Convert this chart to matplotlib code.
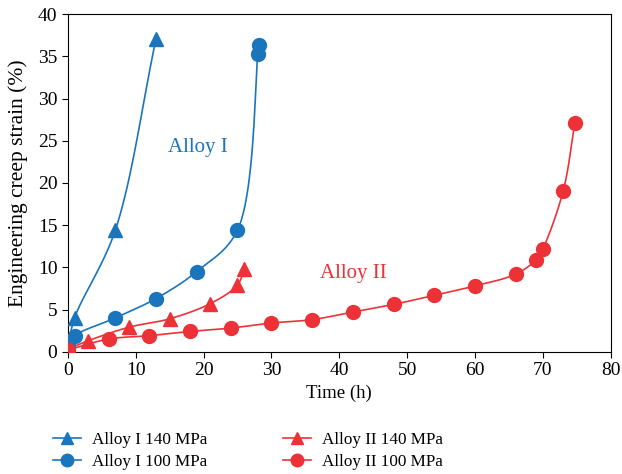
import numpy as np
import matplotlib.pyplot as plt

plt.rcParams['font.family'] = ['Liberation Serif', 'DejaVu Serif']

blue = '#1a75bc'
red = '#ec3237'

# Alloy I 140 MPa
t_a1_140 = [0, 1, 7, 13]
e_a1_140 = [0.5, 4.0, 14.4, 37.1]
# Alloy I 100 MPa
t_a1_100 = [0, 1, 7, 13, 19, 25, 28, 28.2]
e_a1_100 = [0.8, 1.9, 4.0, 6.3, 9.5, 14.4, 35.3, 36.4]
# Alloy II 140 MPa
t_a2_140 = [0, 3, 9, 15, 21, 25, 26]
e_a2_140 = [0.3, 1.3, 2.9, 3.9, 5.7, 7.9, 9.8]
# Alloy II 100 MPa
t_a2_100 = [0, 6, 12, 18, 24, 30, 36, 42, 48, 54, 60, 66, 69, 70, 73, 74.7]
e_a2_100 = [0.2, 1.5, 1.9, 2.4, 2.8, 3.4, 3.8, 4.7, 5.6, 6.7, 7.8, 9.2, 10.9, 12.2, 19.1, 27.1]


def smooth(ax, x, y, n=30, alpha=0.5):
    # centripetal Catmull-Rom line in screen space (drawing only)
    P = ax.transData.transform(np.column_stack([x, y]))
    P = np.vstack([2 * P[0] - P[1], P, 2 * P[-1] - P[-2]])
    out = []
    for i in range(1, len(P) - 2):
        p0, p1, p2, p3 = P[i - 1], P[i], P[i + 1], P[i + 2]
        t0 = 0.0
        t1 = t0 + np.linalg.norm(p1 - p0) ** alpha
        t2 = t1 + np.linalg.norm(p2 - p1) ** alpha
        t3 = t2 + np.linalg.norm(p3 - p2) ** alpha
        t = np.linspace(t1, t2, n)[:, None]
        a1 = (t1 - t) / (t1 - t0) * p0 + (t - t0) / (t1 - t0) * p1
        a2 = (t2 - t) / (t2 - t1) * p1 + (t - t1) / (t2 - t1) * p2
        a3 = (t3 - t) / (t3 - t2) * p2 + (t - t2) / (t3 - t2) * p3
        b1 = (t2 - t) / (t2 - t0) * a1 + (t - t0) / (t2 - t0) * a2
        b2 = (t3 - t) / (t3 - t1) * a2 + (t - t1) / (t3 - t1) * a3
        out.append((t2 - t) / (t2 - t1) * b1 + (t - t1) / (t2 - t1) * b2)
    pts = ax.transData.inverted().transform(np.vstack(out))
    return pts[:, 0], pts[:, 1]


fig = plt.figure(figsize=(6.22, 4.74), dpi=100)
ax = fig.add_axes([0.109, 0.258, 0.873, 0.712])
ax.set_xlim(0, 80)
ax.set_ylim(0, 40)

series = [
    (t_a1_140, e_a1_140, blue, '^', 'Alloy I 140 MPa'),
    (t_a1_100, e_a1_100, blue, 'o', 'Alloy I 100 MPa'),
    (t_a2_140, e_a2_140, red, '^', 'Alloy II 140 MPa'),
    (t_a2_100, e_a2_100, red, 'o', 'Alloy II 100 MPa'),
]
handles = []
for t, e, c, mk, lab in series:
    sx, sy = smooth(ax, t, e)
    ax.plot(sx, sy, color=c, lw=1.2, zorder=2)
    ax.plot(t, e, ls='none', marker=mk, color=c, ms=10, mec=c, zorder=3)
    h, = ax.plot([], [], color=c, lw=1.2, marker=mk, ms=10, label=lab)
    handles.append(h)

ax.text(14.8, 23.7, 'Alloy I', color=blue, fontsize=15)
ax.text(37.2, 8.7, 'Alloy II', color=red, fontsize=15)

ax.set_xticks(range(0, 81, 10))
ax.set_yticks(range(0, 41, 5))
ax.tick_params(labelsize=14, length=4, direction='out')
ax.set_xlabel('Time (h)', fontsize=13.5)
ax.set_ylabel('Engineering creep strain (%)', fontsize=15.5, labelpad=7)

fig.legend(handles=handles, loc='lower left', bbox_to_anchor=(0.06, -0.025),
           ncol=2, frameon=False, fontsize=12.3, columnspacing=4.4,
           handlelength=1.65, handletextpad=0.65, labelspacing=0.4,
           markerscale=0.9)

fig.savefig('out.png', dpi=100)
